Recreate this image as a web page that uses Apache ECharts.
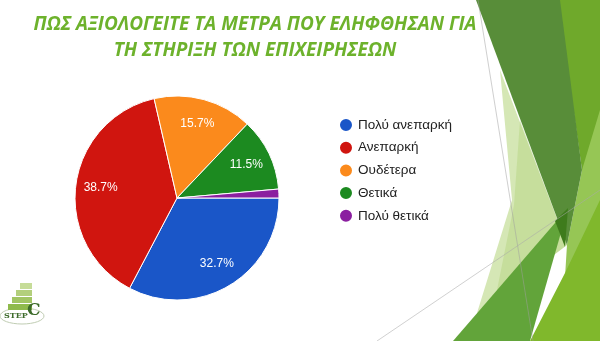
<!DOCTYPE html>
<html>
<head>
<meta charset="utf-8">
<script src="https://cdn.jsdelivr.net/npm/echarts@6/dist/echarts.min.js"></script>
<style>html,body{margin:0;padding:0;background:#fff}#c{width:600px;height:341px}</style>
</head>
<body>
<div id="c"></div>
<script>
var titleText = 'ΠΩΣ ΑΞΙΟΛΟΓΕΙΤΕ ΤΑ ΜΕΤΡΑ ΠΟΥ ΕΛΗΦΘΗΣΑΝ ΓΙΑ\nΤΗ ΣΤΗΡΙΞΗ ΤΩΝ ΕΠΙΧΕΙΡΗΣΕΩΝ';
var categories = ['Πολύ ανεπαρκή', 'Ανεπαρκή', 'Ουδέτερα', 'Θετικά', 'Πολύ θετικά'];
var values = [32.7, 38.7, 15.7, 11.5, 1.4];
var colors = ['#1a56c8', '#d0150f', '#fb8a1c', '#1c8a20', '#8b1fa0'];

var chart = echarts.init(document.getElementById('c'), null, {renderer: 'canvas'});

var pieData = categories.map(function (n, i) {
  return {name: n, value: values[i], itemStyle: {color: colors[i]}};
});
var labelData = categories.map(function (n, i) {
  return {name: n, value: values[i], label: {show: values[i] >= 5}};
});

var deco = [
  // pale wedge
  {type: 'polygon', shape: {points: [[500,70],[567,245],[477,313],[512,200]]}, style: {fill: '#d5e7b5'}},
  {type: 'polygon', shape: {points: [[520,120],[567,245],[495,300],[514,205]]}, style: {fill: 'rgba(175,210,120,0.4)'}},
  // lime right strip
  {type: 'polygon', shape: {points: [[558,0],[600,0],[600,341],[582,170]]}, style: {fill: '#6fa92b'}},
  {type: 'polygon', shape: {points: [[582,170],[600,110],[600,205],[565,277],[567,245]]}, style: {fill: '#96c655'}},
  // dark green
  {type: 'polygon', shape: {points: [[476,0],[560,0],[582,170],[567,245]]}, style: {fill: '#588d39'}},
  // bottom greens
  {type: 'polygon', shape: {points: [[453,341],[568,208],[530,341]]}, style: {fill: '#62a43a'}},
  {type: 'polygon', shape: {points: [[530,341],[565,273],[600,200],[600,341]]}, style: {fill: '#80b82c'}},
  {type: 'polygon', shape: {points: [[555,221],[568,208],[565,247]]}, style: {fill: '#3e7b1c'}},
  {type: 'line', shape: {x1: 478, y1: 0, x2: 533, y2: 341}, style: {stroke: 'rgba(160,160,160,0.5)', lineWidth: 1}},
  {type: 'line', shape: {x1: 377, y1: 341, x2: 600, y2: 190}, style: {stroke: 'rgba(170,170,170,0.55)', lineWidth: 1}},
  // logo
  {type: 'ellipse', shape: {cx: 22, cy: 316, rx: 22, ry: 8}, style: {fill: 'none', stroke: '#c0cdb3', lineWidth: 1}},
  {type: 'rect', shape: {x: 8, y: 304, width: 24, height: 6}, style: {fill: '#8fba4c'}},
  {type: 'rect', shape: {x: 12, y: 297, width: 20, height: 6}, style: {fill: '#a2c564'}},
  {type: 'rect', shape: {x: 16, y: 290, width: 16, height: 6}, style: {fill: '#b3cf7c'}},
  {type: 'rect', shape: {x: 20, y: 283, width: 12, height: 6}, style: {fill: '#c6dc98'}},
  {type: 'text', style: {x: 4, y: 312, text: 'STEP', fill: '#3d6b2a', font: 'bold 8px "DejaVu Serif"'}},
  {type: 'text', style: {x: 27, y: 302, text: 'C', fill: '#3d6b2a', font: 'bold 17px "DejaVu Serif"'}}
];
deco.forEach(function (g) { g.z = -10; g.silent = true; });

chart.setOption({
  backgroundColor: '#ffffff',
  animation: false,
  title: {
    text: titleText,
    left: 250,
    top: 7,
    textAlign: 'center',
    textStyle: {
      color: '#6db22c',
      fontFamily: 'Open Sans',
      fontStyle: 'italic',
      fontWeight: 'bold',
      fontSize: 19,
      lineHeight: 26
    }
  },
  graphic: deco,
  legend: {
    orient: 'vertical',
    left: 338,
    top: 117,
    padding: 0,
    icon: 'circle',
    itemWidth: 14,
    itemHeight: 14,
    itemGap: 6.7,
    data: categories,
    textStyle: {color: '#222', fontSize: 13.5, fontFamily: 'Liberation Sans'}
  },
  series: [
    {
      type: 'pie',
      center: [177, 198],
      radius: [0, 102],
      startAngle: 0,
      clockwise: true,
      label: {show: false},
      labelLine: {show: false},
      itemStyle: {borderColor: '#ffffff', borderWidth: 1},
      data: pieData
    },
    {
      type: 'pie',
      silent: true,
      center: [177, 198],
      radius: [46, 102],
      startAngle: 0,
      clockwise: true,
      itemStyle: {color: 'rgba(0,0,0,0)'},
      label: {
        position: 'inside',
        color: '#ffffff',
        fontSize: 12,
        fontFamily: 'Liberation Sans',
        formatter: function (p) { return p.value.toFixed(1) + '%'; }
      },
      labelLine: {show: false},
      legendHoverLink: false,
      data: labelData
    }
  ]
});
</script>
</body>
</html>
